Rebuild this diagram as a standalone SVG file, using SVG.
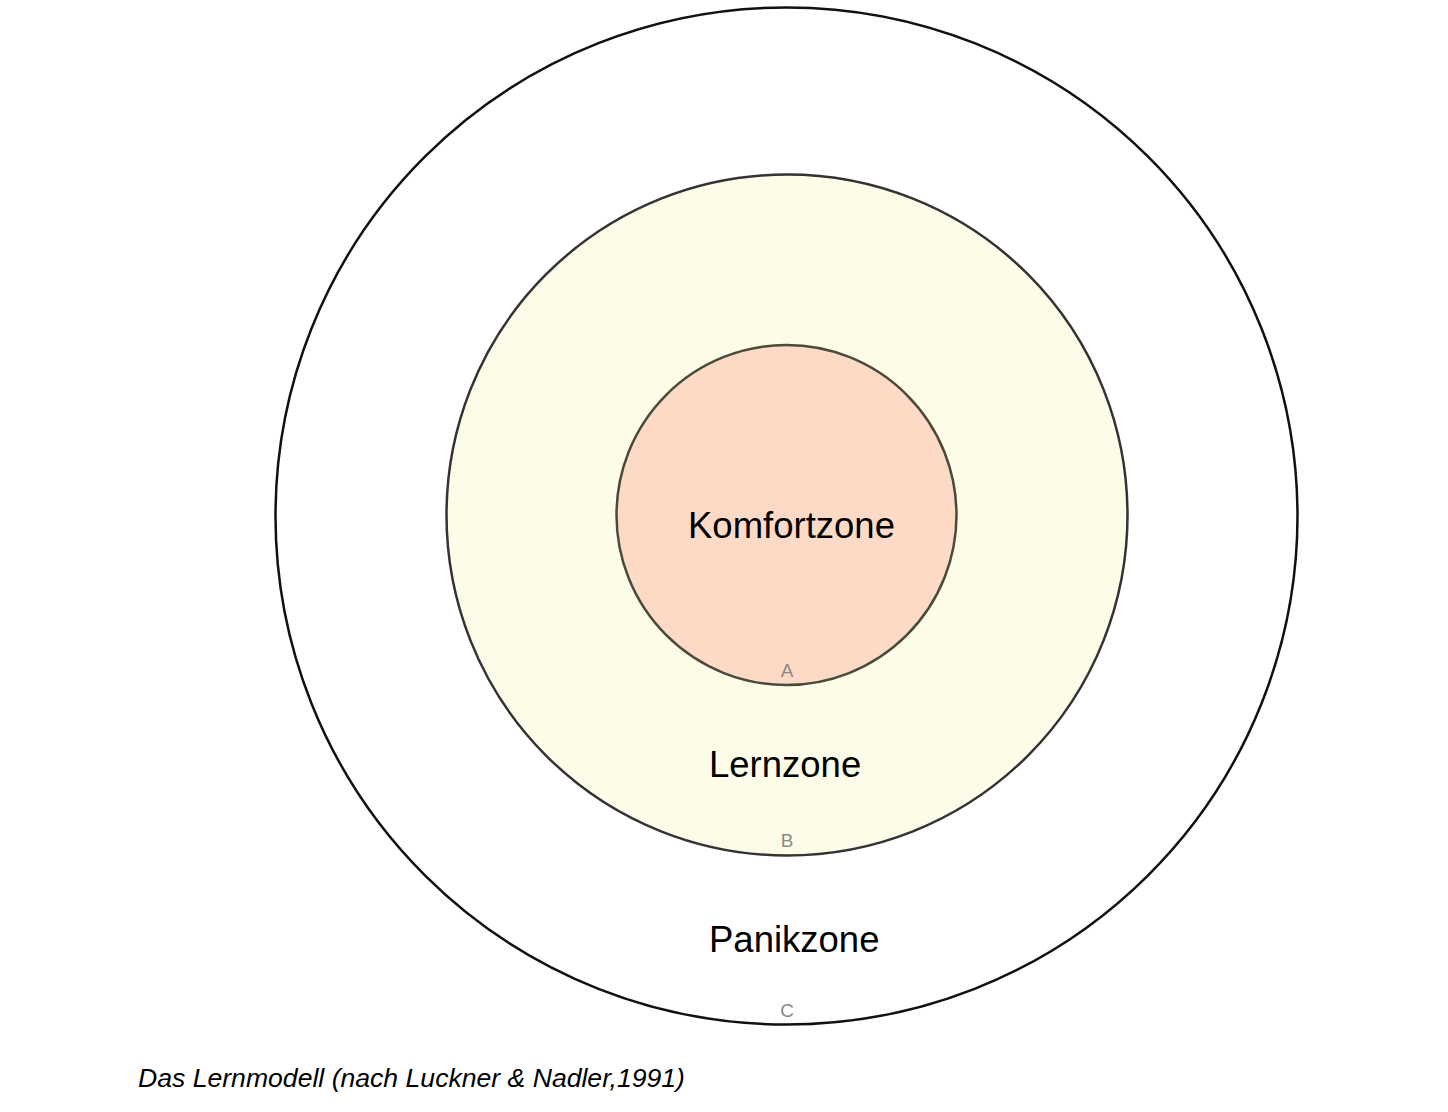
<svg xmlns="http://www.w3.org/2000/svg" width="1448" height="1112" viewBox="0 0 1448 1112">
<style>
.zone{font-family:"Liberation Sans",Arial,sans-serif;font-size:36.5px;fill:#000}
.lbl{font-family:"Liberation Sans",Arial,sans-serif;font-size:19px;fill:#8a8a8a;text-anchor:middle}
.cap{font-family:"Liberation Sans",Arial,sans-serif;font-size:26.6px;font-style:italic;fill:#000}
</style>
<rect width="1448" height="1112" fill="#fff"/>
<g id="panikzone">
<ellipse cx="786.5" cy="516" rx="511" ry="508.5" fill="#fff" stroke="#111" stroke-width="2.5"/>
<text class="zone" x="709" y="952">Panikzone</text>
<text class="lbl" x="787" y="1017">C</text>
</g>
<g id="lernzone">
<circle cx="787" cy="515" r="340.5" fill="#fdfce8" stroke="#333" stroke-width="2.5"/>
<text class="zone" x="709" y="777">Lernzone</text>
<text class="lbl" x="787" y="847">B</text>
</g>
<g id="komfortzone">
<circle cx="786.5" cy="515" r="170" fill="#fddac5" stroke="#4a4a3c" stroke-width="2.5"/>
<text class="zone" x="688" y="538">Komfortzone</text>
<text class="lbl" x="787" y="677">A</text>
</g>
<g id="connectors"/>
<text class="cap" x="138" y="1087">Das Lernmodell (nach Luckner &amp; Nadler,1991)</text>
</svg>
